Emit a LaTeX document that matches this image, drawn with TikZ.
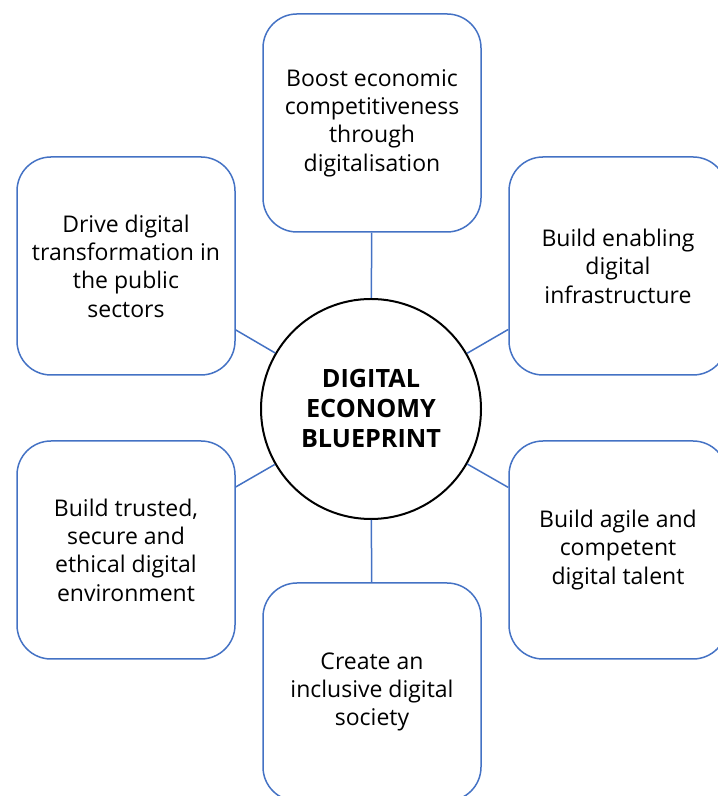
\documentclass[tikz,border=0pt]{standalone}
\usepackage{fontspec}
\setmainfont{Open Sans}
\definecolor{goalblue}{HTML}{4472C4}
\tikzset{
  goal/.style={draw=goalblue, line width=0.75pt, rounded corners=17pt,
    minimum width=109pt, minimum height=109pt, align=center,
    font=\fontsize{11.5}{14.2}\selectfont},
  hub/.style={circle, draw=black, line width=1pt, minimum size=110pt,
    align=center, font=\bfseries\fontsize{12.6}{15}\selectfont},
  link/.style={draw=goalblue, line width=0.75pt}
}
\begin{document}
\begin{tikzpicture}[x=0.5pt, y=0.5pt]
\useasboundingbox (0,0) rectangle (717,796);

\node[hub] (blueprint) at (371,387) {DIGITAL\\ECONOMY\\BLUEPRINT};

\node[goal] (boost) at (372,673) {Boost economic\\competitiveness\\through\\digitalisation};
\node[goal] (drive) at (126,530) {Drive digital\\transformation in\\the public\\sectors};
\node[goal] (infra) at (618,530) {Build enabling\\digital\\infrastructure};
\node[goal] (trust) at (126,246) {Build trusted,\\secure and\\ethical digital\\environment};
\node[goal] (talent) at (618,246) {Build agile and\\competent\\digital talent};
\node[goal] (society) at (372,104) {Create an\\inclusive digital\\society};

\foreach \g in {boost, drive, infra, trust, talent, society}
\draw[link] (blueprint) -- (\g);

\end{tikzpicture}
\end{document}
